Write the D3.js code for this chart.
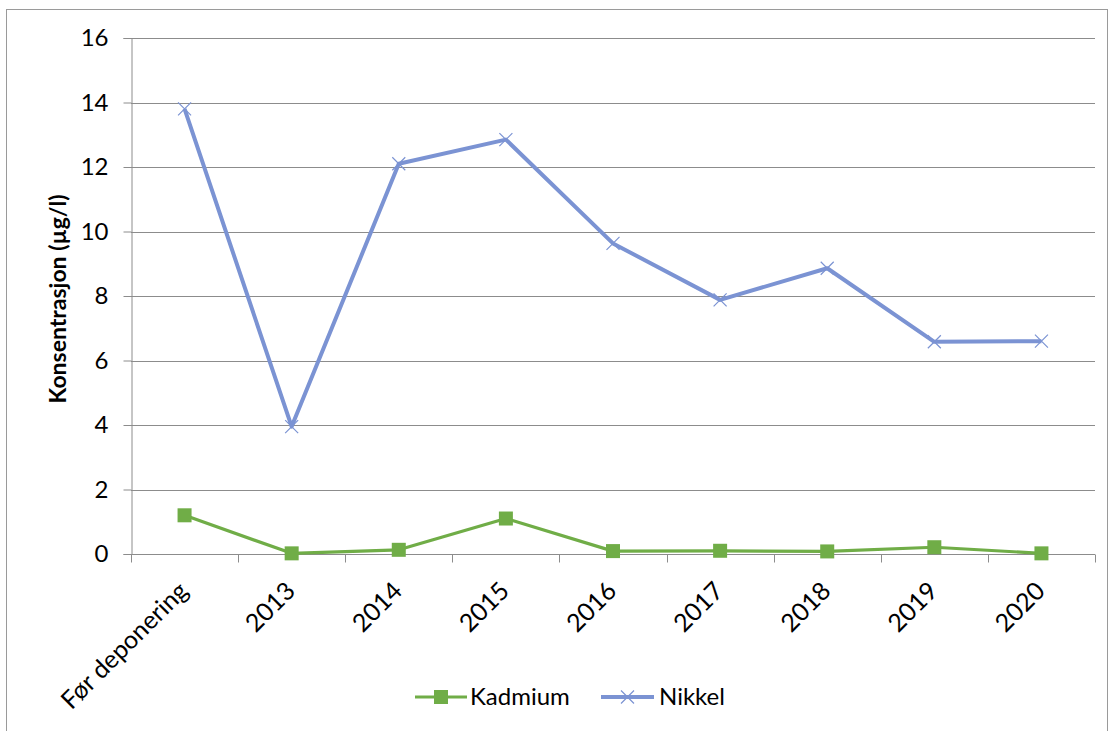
<!DOCTYPE html>
<html><head><meta charset="utf-8">
<script src="https://cdn.jsdelivr.net/npm/d3@7"></script>
<style>body{margin:0;background:#fff}svg{display:block}text{font-family:Lato,"Open Sans",sans-serif;fill:#000}</style>
</head><body>
<svg id="c" width="1110" height="731"></svg>
<script>
const categories = ["Før deponering","2013","2014","2015","2016","2017","2018","2019","2020"];
const kadmium = [1.2, 0.02, 0.13, 1.1, 0.09, 0.1, 0.08, 0.21, 0.02];
const nikkel = [13.8, 3.95, 12.1, 12.85, 9.63, 7.88, 8.86, 6.58, 6.6];
const yTicks = [0,2,4,6,8,10,12,14,16];
const seriesNames = ["Kadmium","Nikkel"];

const svg = d3.select("#c");
const m = {left:131, right:1095, top:38, bottom:554};
svg.append("rect").attr("x",6.5).attr("y",9.5).attr("width",1101).attr("height",730)
  .attr("fill","none").attr("stroke","#9a9a9a").attr("stroke-width",1);

const x = d3.scaleBand().domain(categories).range([m.left,m.right]);
const y = d3.scaleLinear().domain([0,16]).range([m.bottom,m.top]);

// gridlines
svg.append("g").selectAll("line").data(yTicks).join("line")
  .attr("x1",m.left).attr("x2",m.right)
  .attr("y1",d=>Math.round(y(d))+0.5).attr("y2",d=>Math.round(y(d))+0.5)
  .attr("stroke","#8c8c8c").attr("stroke-width",1);

// y axis
const ya = svg.append("g").attr("transform",`translate(${m.left+0.5},0)`)
  .call(d3.axisLeft(y).tickValues(yTicks).tickSize(8).tickPadding(15));
ya.select(".domain").attr("stroke","#8c8c8c");
ya.selectAll(".tick line").attr("stroke","#8c8c8c");
ya.selectAll(".tick text").style("font-size","24px").attr("font-family","Lato");

// x axis
const xa = svg.append("g").attr("transform",`translate(0,${Math.round(m.bottom)+0.5})`);
xa.append("line").attr("x1",m.left).attr("x2",m.right).attr("stroke","#8c8c8c");
const bounds = categories.map(c=>x(c)).concat([x(categories[categories.length-1])+x.bandwidth()]);
xa.selectAll("line.tk").data(bounds).join("line").attr("class","tk")
  .attr("x1",d=>Math.round(d)+0.5).attr("x2",d=>Math.round(d)+0.5).attr("y1",0).attr("y2",8)
  .attr("stroke","#8c8c8c");
xa.selectAll("text").data(categories).join("text")
  .attr("transform",d=>`translate(${x(d)+x.bandwidth()/2+5},${38}) rotate(-45)`)
  .attr("text-anchor","end")
  .style("font-size","25px").text(d=>d);

// y title
svg.append("text").attr("transform",`translate(66,${(m.top+m.bottom)/2+3}) rotate(-90)`)
  .attr("text-anchor","middle").style("font-size","23px").style("font-weight","bold")
  .text("Konsentrasjon (µg/l)");

const cx = d=>x(d)+x.bandwidth()/2;
const green="#70ad47", blue="#7b93d3";
const line = d3.line().x((d,i)=>cx(categories[i])).y(d=>y(d));

svg.append("path").datum(nikkel).attr("d",line).attr("fill","none")
  .attr("stroke",blue).attr("stroke-width",4).attr("stroke-linejoin","round");
const xm = (g,px,py,s)=>g.append("path").attr("d",`M${px-s},${py-s}L${px+s},${py+s}M${px-s},${py+s}L${px+s},${py-s}`)
  .attr("stroke",blue).attr("stroke-width",1.2).attr("fill","none");
const gN = svg.append("g");
nikkel.forEach((v,i)=>xm(gN,cx(categories[i]),y(v),6.5));

svg.append("path").datum(kadmium).attr("d",line).attr("fill","none")
  .attr("stroke",green).attr("stroke-width",3.2).attr("stroke-linejoin","round");
svg.append("g").selectAll("rect").data(kadmium).join("rect")
  .attr("x",(d,i)=>cx(categories[i])-7).attr("y",d=>y(d)-7)
  .attr("width",14).attr("height",14).attr("fill",green);

// legend
const lg = svg.append("g");
lg.append("line").attr("x1",415).attr("x2",467).attr("y1",697).attr("y2",697).attr("stroke",green).attr("stroke-width",3.2);
lg.append("rect").attr("x",434).attr("y",690).attr("width",14).attr("height",14).attr("fill",green);
lg.append("text").attr("x",470).attr("y",697).attr("dy","0.35em").style("font-size","24px").text(seriesNames[0]);
lg.append("line").attr("x1",601).attr("x2",654).attr("y1",697).attr("y2",697).attr("stroke",blue).attr("stroke-width",4);
xm(lg,627.5,697,6.5);
lg.append("text").attr("x",659).attr("y",697).attr("dy","0.35em").style("font-size","24px").text(seriesNames[1]);
</script>
</body></html>
